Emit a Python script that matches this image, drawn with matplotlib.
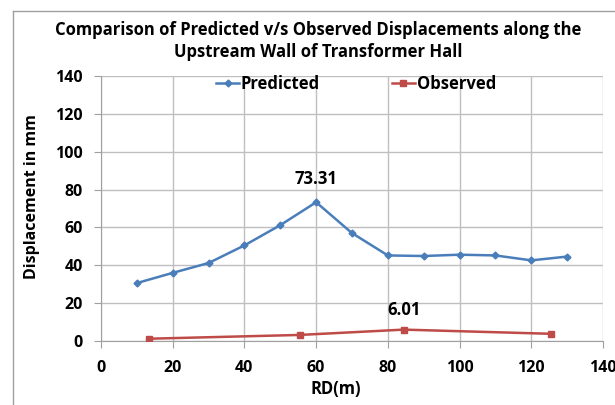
import matplotlib
matplotlib.use("Agg")
import matplotlib.pyplot as plt
from matplotlib.lines import Line2D

pred_x = [10, 20, 30, 40, 50, 60, 70, 80, 90, 100, 110, 120, 130]
pred_y = [30.6, 36.0, 41.2, 50.5, 61.2, 73.31, 57.0, 45.2, 44.9, 45.6, 45.2, 42.6, 44.6]
obs_x = [13.3, 55.4, 84.4, 125.6]
obs_y = [1.2, 3.2, 6.01, 3.8]
xticks = [0, 20, 40, 60, 80, 100, 120, 140]
yticks = [0, 20, 40, 60, 80, 100, 120, 140]

plt.rcParams['font.family'] = ['Open Sans', 'DejaVu Sans']
fig = plt.figure(figsize=(6.15, 4.05), dpi=100)
ax = fig.add_axes([101/615, 1-341/405, 502/615, 265/405])

blue = '#4A7EBB'
red = '#BE4B48'
ax.plot(pred_x, pred_y, color=blue, lw=1.8, marker='D', ms=3.5, label='Predicted', zorder=3)
ax.plot(obs_x, obs_y, color=red, lw=1.8, marker='s', ms=5, label='Observed', zorder=3)

ax.set_xlim(0, 140)
ax.set_ylim(0, 140)
ax.set_xticks(xticks)
ax.set_yticks(yticks)
ax.grid(True, color='#BFBFBF', lw=1)
ax.set_axisbelow(True)
for s in ['top', 'right']:
    ax.spines[s].set_visible(False)
for s in ['left', 'bottom']:
    ax.spines[s].set_color('#A0A0A0')
ax.tick_params(axis='both', length=5, color='#A0A0A0', labelsize=11.5, pad=4)
for lab in ax.get_xticklabels() + ax.get_yticklabels():
    lab.set_fontweight('bold')
ax.tick_params(axis='x', pad=9)
ax.tick_params(axis='y', pad=8)

ax.annotate('73.31', (60, 73.31), xytext=(0, 10), textcoords='offset points',
            ha='center', va='bottom', fontsize=12, fontweight='bold')
ax.annotate('6.01', (84.4, 6.01), xytext=(0, 8), textcoords='offset points',
            ha='center', va='bottom', fontsize=12, fontweight='bold')

ax.set_xlabel('RD(m)', fontsize=12, fontweight='bold')
ax.xaxis.set_label_coords((336-101)/502, -(389-341)/265, transform=ax.transAxes)
ax.xaxis.label.set_va('center')
ax.set_ylabel('Displacement in mm', fontsize=11.5, fontweight='bold')
ax.yaxis.set_label_coords(-(101-32)/502, (341-197)/265, transform=ax.transAxes)
ax.yaxis.label.set_va('center')

fig.text(318/615, 1-30/405, 'Comparison of Predicted v/s Observed Displacements along the',
         ha='center', va='center', fontsize=12, fontweight='bold')
fig.text(318/615, 1-52/405, 'Upstream Wall of Transformer Hall',
         ha='center', va='center', fontsize=12, fontweight='bold')

h1 = Line2D([], [], color=blue, lw=1.8, marker='D', ms=3.5)
h2 = Line2D([], [], color=red, lw=1.8, marker='s', ms=5)
leg = fig.legend([h1, h2], ['Predicted', 'Observed'], loc='center',
                 bbox_to_anchor=(356/615, 1-84/405), ncol=2, frameon=False,
                 prop={'weight': 'bold', 'size': 12}, handlelength=1.4,
                 handletextpad=0.1, columnspacing=4.3)

fig.add_artist(Line2D([13/615, 13/615], [0, 1-11/405], color='#A0A0A0', lw=1, transform=fig.transFigure))
fig.add_artist(Line2D([13/615, 1], [1-11/405, 1-11/405], color='#A0A0A0', lw=1, transform=fig.transFigure))

fig.savefig('out.png', dpi=100)
